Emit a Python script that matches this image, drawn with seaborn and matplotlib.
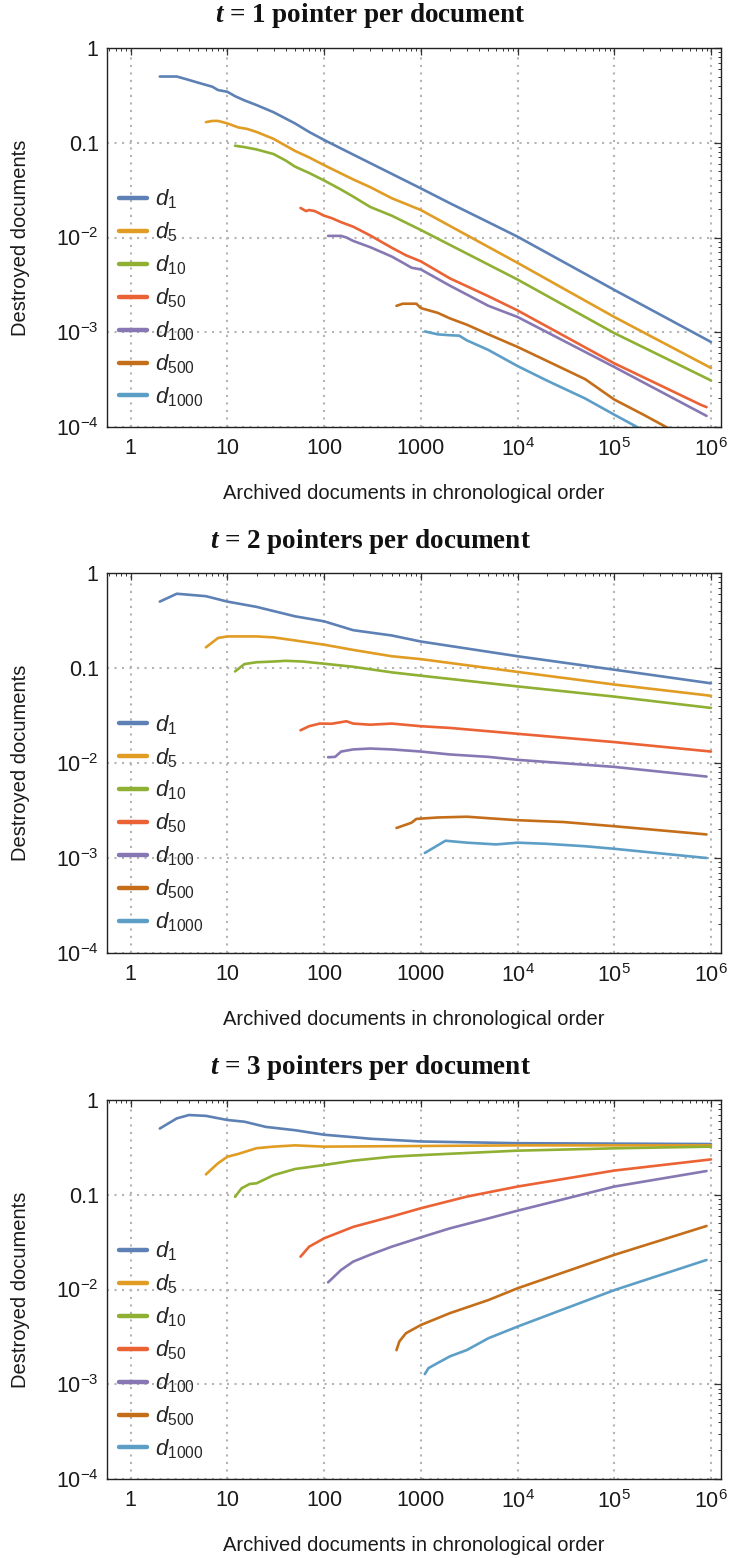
import pandas as pd
import numpy as np
import matplotlib
matplotlib.use('Agg')
import matplotlib.pyplot as plt
import seaborn as sns
from matplotlib.ticker import FixedLocator, LogLocator, NullFormatter

# ---- data (x = archived docs, y = destroyed fraction)
labels = [r'$d_{1}$', r'$d_{5}$', r'$d_{10}$', r'$d_{50}$',
          r'$d_{100}$', r'$d_{500}$', r'$d_{1000}$']
colors = ['#5E81B5', '#E19C24', '#8FB032', '#EB6235',
          '#8778B3', '#C56E1A', '#5D9EC7']
titles = ['t = 1 pointer per document', 't = 2 pointers per document',
          't = 3 pointers per document']

# t = 1
t1_d1_x = [2, 3, 4, 5, 7, 8, 10, 12, 15, 20, 30, 50, 70, 100, 200, 500, 1000, 2000, 5000, 1e4, 1e5, 1e6]
t1_d1_y = [0.50, 0.50, 0.46, 0.43, 0.39, 0.36, 0.345, 0.31, 0.28, 0.25, 0.21, 0.16, 0.13, 0.107,
           0.075, 0.047, 0.033, 0.023, 0.0145, 0.0102, 0.0028, 0.00079]
t1_d5_x = [6, 7, 8, 10, 13, 16, 20, 30, 50, 70, 100, 200, 300, 500, 1000, 1e4, 1e5, 1e6]
t1_d5_y = [0.165, 0.17, 0.17, 0.16, 0.145, 0.14, 0.13, 0.11, 0.082, 0.07, 0.058, 0.041, 0.034,
           0.026, 0.0195, 0.0054, 0.00145, 0.00042]
t1_d10_x = [12, 15, 20, 30, 40, 50, 70, 100, 150, 200, 300, 500, 1000, 1e4, 1e5, 1e6]
t1_d10_y = [0.093, 0.09, 0.085, 0.076, 0.065, 0.056, 0.048, 0.040, 0.032, 0.027, 0.021, 0.017,
            0.012, 0.0036, 0.00098, 0.00031]
t1_d50_x = [57, 65, 70, 80, 100, 120, 150, 200, 300, 500, 700, 1000, 2000, 5000, 1e4, 1e5, 8e5, 9e5]
t1_d50_y = [0.0205, 0.019, 0.0195, 0.019, 0.017, 0.016, 0.0145, 0.013, 0.0105, 0.0078, 0.0065,
            0.0056, 0.0037, 0.0024, 0.0017, 0.00047, 0.00017, 0.000162]
t1_d100_x = [110, 150, 170, 200, 300, 500, 700, 800, 1000, 2000, 5000, 1e4, 1e5, 9e5]
t1_d100_y = [0.0104, 0.0104, 0.0100, 0.0092, 0.0079, 0.0063, 0.0052, 0.0048, 0.0046, 0.0031,
             0.0019, 0.00145, 0.00043, 0.000131]
t1_d500_x = [560, 650, 700, 900, 1000, 1500, 2000, 3000, 5000, 1e4, 2e4, 5e4, 1e5, 2e5, 4e5]
t1_d500_y = [0.0019, 0.002, 0.002, 0.002, 0.0018, 0.0016, 0.0014, 0.0012, 0.00095, 0.0007,
             0.0005, 0.00032, 0.000195, 0.000135, 0.000092]
t1_d1000_x = [1100, 1500, 2000, 2500, 3000, 5000, 1e4, 2e4, 5e4, 1e5, 2e5]
t1_d1000_y = [0.00102, 0.00095, 0.00093, 0.00092, 0.00082, 0.00065, 0.00044, 0.00031, 0.0002,
              0.000135, 0.000092]

# t = 2
t2_d1_x = [2, 3, 6, 10, 20, 50, 100, 200, 500, 1000, 1e4, 1e5, 1e6]
t2_d1_y = [0.50, 0.605, 0.57, 0.50, 0.44, 0.35, 0.31, 0.25, 0.22, 0.19, 0.133, 0.096, 0.069]
t2_d5_x = [6, 8, 10, 20, 30, 50, 100, 200, 500, 1000, 1e4, 1e5, 1e6]
t2_d5_y = [0.165, 0.207, 0.215, 0.215, 0.21, 0.195, 0.176, 0.155, 0.133, 0.124, 0.091, 0.067, 0.051]
t2_d10_x = [12, 15, 20, 30, 40, 60, 100, 200, 500, 1000, 1e4, 1e5, 1e6]
t2_d10_y = [0.092, 0.110, 0.115, 0.117, 0.119, 0.117, 0.111, 0.103, 0.090, 0.083, 0.064, 0.050, 0.038]
t2_d50_x = [57, 70, 90, 120, 170, 200, 300, 500, 1000, 2000, 1e4, 1e5, 1e6]
t2_d50_y = [0.0221, 0.0244, 0.026, 0.0259, 0.0275, 0.026, 0.0253, 0.026, 0.0244, 0.0234, 0.0203,
            0.0166, 0.0132]
t2_d100_x = [110, 130, 150, 200, 300, 500, 1000, 2000, 5000, 1e4, 1e5, 9e5]
t2_d100_y = [0.0115, 0.0116, 0.0132, 0.0139, 0.0142, 0.0139, 0.0132, 0.0123, 0.0116, 0.0108,
             0.0091, 0.0072]
t2_d500_x = [560, 800, 900, 1500, 3000, 6000, 1e4, 3e4, 1e5, 9e5]
t2_d500_y = [0.00207, 0.00235, 0.00258, 0.00267, 0.00272, 0.00259, 0.0025, 0.00239, 0.00216, 0.00177]
t2_d1000_x = [1100, 1800, 3000, 6000, 1e4, 2e4, 5e4, 1e5, 9e5]
t2_d1000_y = [0.00113, 0.00152, 0.00145, 0.00139, 0.00145, 0.00141, 0.00133, 0.00125, 0.00100]

# t = 3
t3_d1_x = [2, 3, 4, 6, 10, 15, 25, 50, 100, 200, 300, 1000, 1e4, 1e6]
t3_d1_y = [0.50, 0.64, 0.694, 0.68, 0.615, 0.59, 0.52, 0.48, 0.43, 0.405, 0.39, 0.365, 0.35, 0.343]
t3_d5_x = [6, 7, 8, 10, 13, 20, 30, 50, 100, 1000, 1e4, 1e6]
t3_d5_y = [0.164, 0.19, 0.215, 0.252, 0.27, 0.31, 0.322, 0.332, 0.322, 0.327, 0.332, 0.332]
t3_d10_x = [12, 14, 17, 20, 30, 50, 100, 200, 500, 1000, 1e4, 1e5, 1e6]
t3_d10_y = [0.095, 0.117, 0.130, 0.132, 0.161, 0.187, 0.206, 0.229, 0.252, 0.262, 0.292, 0.309, 0.322]
t3_d50_x = [57, 70, 100, 200, 500, 1000, 3000, 1e4, 1e5, 1e6]
t3_d50_y = [0.0222, 0.0283, 0.0347, 0.0458, 0.0589, 0.0720, 0.0957, 0.122, 0.180, 0.236]
t3_d100_x = [110, 150, 200, 300, 500, 1000, 2000, 5000, 1e4, 1e5, 9e5]
t3_d100_y = [0.0119, 0.0161, 0.0197, 0.0233, 0.0283, 0.0355, 0.0442, 0.0563, 0.0679, 0.122, 0.178]
t3_d500_x = [560, 600, 700, 1000, 2000, 5000, 1e4, 1e5, 9e5]
t3_d500_y = [0.00229, 0.00283, 0.00345, 0.00422, 0.00563, 0.00774, 0.0103, 0.0232, 0.0468]
t3_d1000_x = [1100, 1200, 1500, 2000, 3000, 5000, 1e4, 1e5, 9e5]
t3_d1000_y = [0.00128, 0.00148, 0.00168, 0.00197, 0.00230, 0.00306, 0.00406, 0.00985, 0.0205]

panels = [
    [(t1_d1_x, t1_d1_y), (t1_d5_x, t1_d5_y), (t1_d10_x, t1_d10_y), (t1_d50_x, t1_d50_y),
     (t1_d100_x, t1_d100_y), (t1_d500_x, t1_d500_y), (t1_d1000_x, t1_d1000_y)],
    [(t2_d1_x, t2_d1_y), (t2_d5_x, t2_d5_y), (t2_d10_x, t2_d10_y), (t2_d50_x, t2_d50_y),
     (t2_d100_x, t2_d100_y), (t2_d500_x, t2_d500_y), (t2_d1000_x, t2_d1000_y)],
    [(t3_d1_x, t3_d1_y), (t3_d5_x, t3_d5_y), (t3_d10_x, t3_d10_y), (t3_d50_x, t3_d50_y),
     (t3_d100_x, t3_d100_y), (t3_d500_x, t3_d500_y), (t3_d1000_x, t3_d1000_y)],
]

xticks = [1, 10, 100, 1000, 1e4, 1e5, 1e6]
xticklabels = ['1', '10', '100', '1000', r'$10^{4}$', r'$10^{5}$', r'$10^{6}$']
yticks = [1, 0.1, 0.01, 0.001, 0.0001]
yticklabels = ['1', '0.1', r'$10^{-2}$', r'$10^{-3}$', r'$10^{-4}$']

sns.set_style('white')
plt.rcParams['font.family'] = ['Liberation Sans', 'DejaVu Sans']
plt.rcParams['mathtext.fontset'] = 'custom'
plt.rcParams['mathtext.rm'] = 'Liberation Sans'
plt.rcParams['mathtext.it'] = 'Liberation Sans:italic'
plt.rcParams['mathtext.bf'] = 'Liberation Sans:bold'
plt.rcParams['mathtext.bfit'] = 'Liberation Serif:bold:italic'

W, H = 731, 1558
fig = plt.figure(figsize=(W / 100, H / 100), dpi=100)

ax_left, ax_right = 107, 721
tops = [48, 573, 1100]
bottoms = [427, 953, 1479]
title_y = [16, 541, 1067]

for i, series in enumerate(panels):
    ax = fig.add_axes([ax_left / W, 1 - bottoms[i] / H,
                       (ax_right - ax_left) / W, (bottoms[i] - tops[i]) / H])
    frames = []
    for lab, (xs, ys) in zip(labels, series):
        frames.append(pd.DataFrame({'x': xs, 'y': ys, 'series': lab}))
    df = pd.concat(frames, ignore_index=True)

    sns.lineplot(data=df, x='x', y='y', hue='series', hue_order=labels,
                 palette=colors, estimator=None, sort=False, linewidth=1.9, ax=ax)

    ax.set_xscale('log')
    ax.set_yscale('log')
    ax.set_xlim(0.569, 1.27e6)
    ax.set_ylim(1e-4, 1)

    ax.xaxis.set_major_locator(FixedLocator(xticks))
    ax.set_xticklabels(xticklabels)
    ax.yaxis.set_major_locator(FixedLocator(yticks))
    ax.set_yticklabels(yticklabels)
    ax.xaxis.set_minor_locator(LogLocator(base=10, subs=np.arange(2, 10), numticks=20))
    ax.yaxis.set_minor_locator(LogLocator(base=10, subs=np.arange(2, 10), numticks=20))
    ax.xaxis.set_minor_formatter(NullFormatter())
    ax.yaxis.set_minor_formatter(NullFormatter())
    ax.tick_params(which='both', direction='in', top=True, right=True,
                   color='#333333', labelsize=15.5, labelcolor='#1a1a1a')
    ax.tick_params(which='major', length=5, width=0.9)
    ax.tick_params(axis='x', which='major', pad=8)
    ax.tick_params(axis='y', which='major', pad=6)
    ax.tick_params(which='minor', length=2.5, width=0.7)

    ax.grid(which='major', color='#b4b4b4', linestyle=(0, (1, 2.6)), linewidth=1.5)
    for s in ax.spines.values():
        s.set_color('#222222')
        s.set_linewidth(1.0)

    ax.set_xlabel('Archived documents in chronological order', fontsize=14.5, color='#1a1a1a')
    ax.set_ylabel('Destroyed documents', fontsize=14.5, color='#1a1a1a')
    ax.xaxis.set_label_coords(0.5, -57 / 379)
    ax.yaxis.set_label_coords(-77 / 614, 0.5)

    sns.move_legend(ax, 'upper left', bbox_to_anchor=(0.005, 0.655), frameon=False,
                    title=None, fontsize=16, handlelength=1.25, handletextpad=0.35,
                    labelspacing=0.42, borderaxespad=0.0)
    for h in ax.get_legend().get_lines():
        h.set_linewidth(3.2)

    fig.text(370 / W, 1 - title_y[i] / H,
             r'$\mathbfit{t}$' + titles[i][1:],
             fontfamily='Liberation Serif', fontweight='bold', fontsize=19.5,
             ha='center', va='center', color='#111111')

fig.savefig('out.png', dpi=100)
